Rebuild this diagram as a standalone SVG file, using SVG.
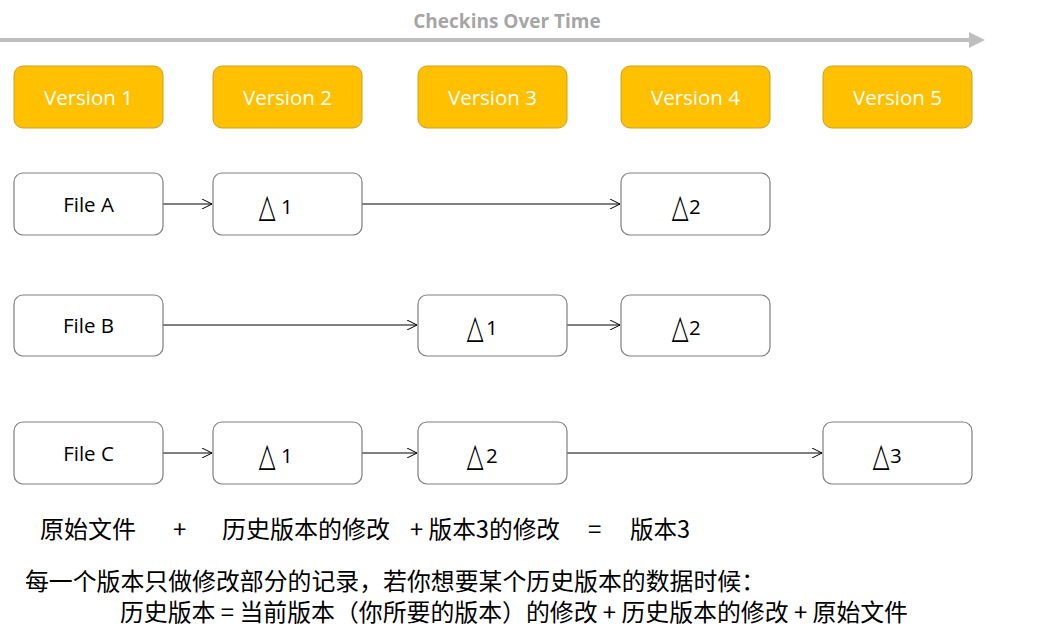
<svg xmlns="http://www.w3.org/2000/svg" width="1043" height="637" viewBox="0 0 1043 637">
<style>
.ver rect{fill:#FFC000;stroke:#C9A227;stroke-width:1}
.ver text{fill:#fff;font-family:"Open Sans","Noto Sans",sans-serif;font-size:20.5px;text-anchor:middle;dominant-baseline:central}
.file rect{fill:#fff;stroke:#7f7f7f;stroke-width:1.2}
.file text{fill:#000;font-family:"Open Sans","Noto Sans",sans-serif;font-size:20.5px;text-anchor:middle;dominant-baseline:central}
.file text.n{text-anchor:start}
.file text.tri{font-family:"DejaVu Sans",sans-serif;font-size:33px;text-anchor:middle;dominant-baseline:alphabetic}
.conn line{stroke:#000;stroke-width:1}
.cn{font-family:"Noto Sans CJK SC",sans-serif;font-size:24px;fill:#000}
</style>
<defs>
<marker id="open" viewBox="0 0 10 10" refX="10" refY="5" markerWidth="10" markerHeight="10" markerUnits="userSpaceOnUse" orient="auto">
<path d="M0,0 L10,5 L0,10" fill="none" stroke="#000" stroke-width="1"/>
</marker>
<marker id="gray" viewBox="0 0 10 10" refX="0" refY="5" markerWidth="16" markerHeight="16" markerUnits="userSpaceOnUse" orient="auto">
<path d="M0,0 L10,5 L0,10 Z" fill="#BFBFBF"/>
</marker>
</defs>
<text x="507" y="28" font-family="Open Sans,Noto Sans,sans-serif" font-size="19" font-weight="bold" fill="#A6A6A6" text-anchor="middle">Checkins Over Time</text>
<line x1="0" y1="40" x2="969" y2="40" stroke="#BFBFBF" stroke-width="4" marker-end="url(#gray)"/>
<g id="v1" class="ver"><rect x="14" y="66" width="149" height="62" rx="9"/><text x="88.5" y="97">Version 1</text></g>
<g id="v2" class="ver"><rect x="213" y="66" width="149" height="62" rx="9"/><text x="287.5" y="97">Version 2</text></g>
<g id="v3" class="ver"><rect x="418" y="66" width="149" height="62" rx="9"/><text x="492.5" y="97">Version 3</text></g>
<g id="v4" class="ver"><rect x="621" y="66" width="149" height="62" rx="9"/><text x="695.5" y="97">Version 4</text></g>
<g id="v5" class="ver"><rect x="823" y="66" width="149" height="62" rx="9"/><text x="897.5" y="97">Version 5</text></g>
<g class="conn" id="connectors">
<line x1="163" y1="204" x2="212" y2="204" marker-end="url(#open)"/>
<line x1="362" y1="204" x2="620" y2="204" marker-end="url(#open)"/>
<line x1="163" y1="325" x2="417" y2="325" marker-end="url(#open)"/>
<line x1="567" y1="325" x2="620" y2="325" marker-end="url(#open)"/>
<line x1="163" y1="453" x2="212" y2="453" marker-end="url(#open)"/>
<line x1="362" y1="453" x2="417" y2="453" marker-end="url(#open)"/>
<line x1="567" y1="453" x2="822" y2="453" marker-end="url(#open)"/>
</g>
<g id="fileA" class="file"><rect x="14" y="173" width="149" height="62" rx="9"/><text x="88.5" y="204">File A</text></g>
<g id="a1" class="file"><rect x="213" y="173" width="149" height="62" rx="9"/><text class="tri" transform="translate(267 217) scale(0.66 1)">△</text><text class="n" x="281" y="206">1</text></g>
<g id="a2" class="file"><rect x="621" y="173" width="149" height="62" rx="9"/><text class="tri" transform="translate(680 217) scale(0.66 1)">△</text><text class="n" x="689" y="206">2</text></g>
<g id="fileB" class="file"><rect x="14" y="295" width="149" height="61" rx="9"/><text x="88.5" y="325">File B</text></g>
<g id="b1" class="file"><rect x="418" y="295" width="149" height="61" rx="9"/><text class="tri" transform="translate(475 338) scale(0.66 1)">△</text><text class="n" x="486" y="327">1</text></g>
<g id="b2" class="file"><rect x="621" y="295" width="149" height="61" rx="9"/><text class="tri" transform="translate(680 338) scale(0.66 1)">△</text><text class="n" x="689" y="327">2</text></g>
<g id="fileC" class="file"><rect x="14" y="422" width="149" height="62" rx="9"/><text x="88.5" y="453">File C</text></g>
<g id="c1" class="file"><rect x="213" y="422" width="149" height="62" rx="9"/><text class="tri" transform="translate(267 466) scale(0.66 1)">△</text><text class="n" x="281" y="455">1</text></g>
<g id="c2" class="file"><rect x="418" y="422" width="149" height="62" rx="9"/><text class="tri" transform="translate(475 466) scale(0.66 1)">△</text><text class="n" x="486" y="455">2</text></g>
<g id="c3" class="file"><rect x="823" y="422" width="149" height="62" rx="9"/><text class="tri" transform="translate(881 466) scale(0.66 1)">△</text><text class="n" x="890" y="455">3</text></g>
<text class="cn" x="40" y="538">原始文件</text>
<text class="cn" x="173" y="538">+</text>
<text class="cn" x="222" y="538" textLength="168" lengthAdjust="spacingAndGlyphs">历史版本的修改</text>
<text class="cn" x="410" y="538" textLength="150" lengthAdjust="spacingAndGlyphs">+ 版本3的修改</text>
<text class="cn" x="588" y="538">=</text>
<text class="cn" x="630" y="538" textLength="60" lengthAdjust="spacingAndGlyphs">版本3</text>
<text class="cn" x="25" y="590" textLength="740" lengthAdjust="spacingAndGlyphs">每一个版本只做修改部分的记录，若你想要某个历史版本的数据时候：</text>
<text class="cn" x="120" y="621" textLength="788" lengthAdjust="spacingAndGlyphs">历史版本 = 当前版本（你所要的版本）的修改 + 历史版本的修改 + 原始文件</text>
</svg>
